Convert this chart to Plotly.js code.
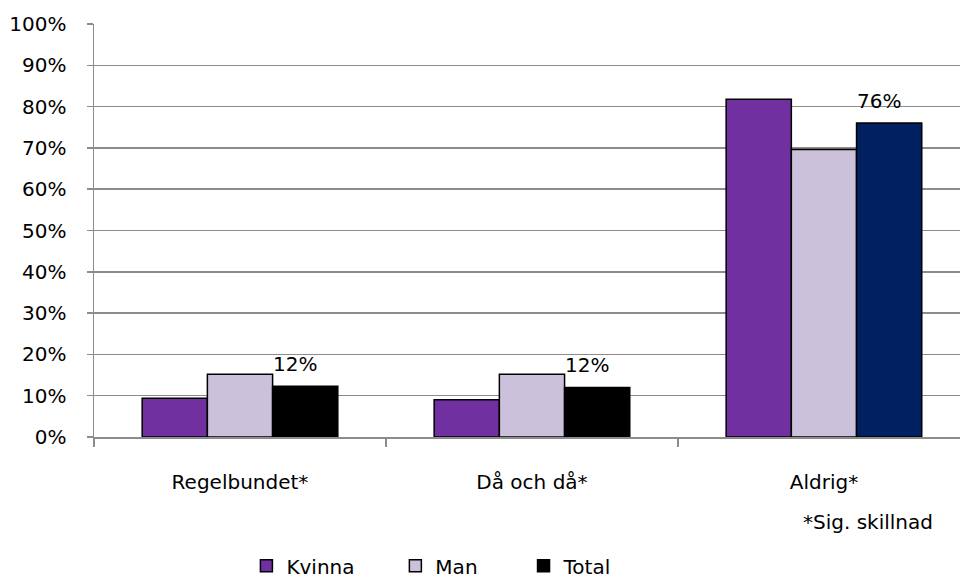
<!DOCTYPE html>
<html>
<head>
<meta charset="utf-8">
<script src="https://cdn.plot.ly/plotly-3.0.1.min.js"></script>
<style>html,body{margin:0;padding:0;background:#fff;}#chart{width:960px;height:579px;}</style>
</head>
<body>
<div id="chart"></div>
<script>
const categories = ["Regelbundet*", "Då och då*", "Aldrig*"];
const kvinna = [9.4, 9.0, 81.8];
const man = [15.2, 15.2, 69.6];
const total = [12.3, 12.0, 76.0];
const totalLabels = ["12%", "12%", "76%"];
const seriesNames = ["Kvinna", "Man", "Total"];
const totalColors = ["#000000", "#000000", "#002060"];

const font = {family: "DejaVu Sans, Verdana, sans-serif", size: 20, color: "#000"};
const line = {color: "#000", width: 1.5};

const traces = [
  {type: "bar", name: seriesNames[0], legend: "legend", x: categories, y: kvinna, marker: {color: "#7030A0", line: line}},
  {type: "bar", name: seriesNames[1], legend: "legend2", x: categories, y: man, marker: {color: "#CCC1DA", line: line}},
  {type: "bar", name: seriesNames[2], legend: "legend3", x: categories, y: total, marker: {color: totalColors, line: line}}
];

const annotations = categories.map((c, i) => ({
  x: c, y: total[i], xref: "x", yref: "y", text: totalLabels[i], showarrow: false,
  xanchor: "center", yanchor: "bottom", xshift: 55, yshift: 8, font: font
}));
annotations.push({
  xref: "paper", yref: "paper", x: 0.971, y: -0.206, text: "*Sig. skillnad", showarrow: false,
  xanchor: "right", yanchor: "middle", font: font
});

function legendAt(x) {
  return {orientation: "h", x: x, xanchor: "left", y: -0.312, yanchor: "middle",
    font: font, itemwidth: 30, bgcolor: "rgba(0,0,0,0)"};
}

const layout = {
  width: 960, height: 579,
  margin: {l: 94, r: 0, t: 24, b: 142, autoexpand: false},
  paper_bgcolor: "#fff", plot_bgcolor: "#fff",
  font: font,
  barmode: "group", bargap: 0.33, bargroupgap: 0,
  xaxis: {
    type: "category", range: [-0.5, 2.466], automargin: false,
    showline: true, linecolor: "#8c8c8c", linewidth: 1.5,
    ticks: "outside", tickson: "boundaries", ticklen: 8, tickcolor: "#8c8c8c", tickwidth: 1.5,
    ticklabelstandoff: 26, showgrid: false, tickfont: font
  },
  yaxis: {
    range: [0, 100], dtick: 10, ticksuffix: "%", automargin: false,
    showline: true, linecolor: "#8c8c8c", linewidth: 1.5,
    ticks: "outside", ticklen: 6, tickcolor: "#8c8c8c", tickwidth: 1.5,
    ticklabelstandoff: 16,
    showgrid: true, gridcolor: "#8c8c8c", gridwidth: 1.5, zeroline: false,
    tickfont: font
  },
  legend: legendAt(0.176),
  legend2: legendAt(0.348),
  legend3: legendAt(0.496),
  showlegend: true,
  annotations: annotations
};

Plotly.newPlot("chart", traces, layout, {displayModeBar: false, staticPlot: true});
</script>
</body>
</html>
